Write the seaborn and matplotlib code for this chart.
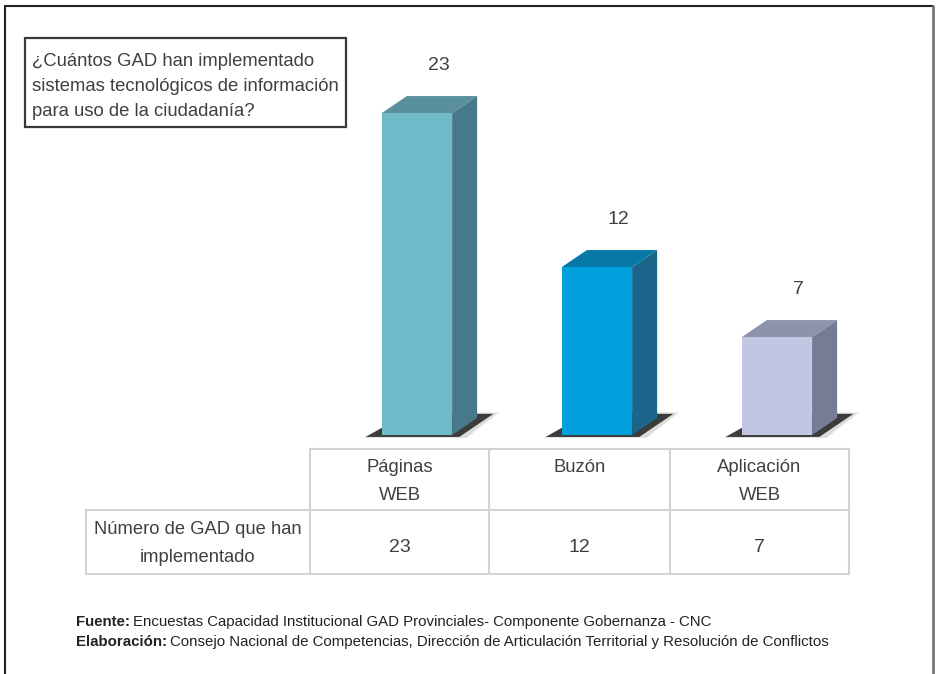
import numpy as np
import pandas as pd
import matplotlib
matplotlib.use('Agg')
import matplotlib.pyplot as plt
import seaborn as sns
from matplotlib.patches import Polygon, Rectangle

# datos del grafico
categorias = ['Páginas\nWEB', 'Buzón', 'Aplicación\nWEB']
valores = [23, 12, 7]
fila_label = 'Número de GAD que han\nimplementado'
titulo = '¿Cuántos GAD han implementado\nsistemas tecnológicos de información\npara uso de la ciudadanía?'
color_frente = ['#6fbac8', '#00a0dc', '#c1c6e3']
color_lado = ['#47798a', '#1a6589', '#757c95']
color_tope = ['#5a909d', '#0779a6', '#8d93ac']
fuente = 'Encuestas Capacidad Institucional GAD Provinciales- Componente Gobernanza - CNC'
elaboracion = 'Consejo Nacional de Competencias, Dirección de Articulación Territorial y Resolución de Conflictos'

W, H = 937, 674
sns.set_theme(style='white')
plt.rcParams['font.family'] = ['Liberation Sans Narrow', 'Liberation Sans', 'DejaVu Sans']
TXT = '#404040'

fig = plt.figure(figsize=(W / 100, H / 100), dpi=100)
fig.patch.set_facecolor('white')


def px_box(x0, y0, x1, y1):
    return [x0 / W, 1 - y1 / H, (x1 - x0) / W, (y1 - y0) / H]


# ejes de barras (0 en y=435px, 14 px por unidad)
ax = fig.add_axes(px_box(327, 43, 867, 442))
df = pd.DataFrame({'cat': categorias, 'val': valores})
sns.barplot(data=df, x='cat', y='val', hue='cat', palette=color_frente,
            width=0.39, legend=False, ax=ax, saturation=1, zorder=3)
ax.set_xlim(-0.5, 2.5)
ax.set_ylim(-0.5, 28)
ax.axis('off')

dx, dy = 0.139, 1.21
barras = sorted(ax.patches, key=lambda p: p.get_x())
for i, p in enumerate(barras):
    x0 = p.get_x()
    x1 = x0 + p.get_width()
    h = p.get_height()
    p.set_edgecolor('none')
    # sombra
    ax.add_patch(Polygon([(x0 - 0.1, -0.2), (x1 + 0.08, -0.2), (x1 + dx + 0.12, dy + 0.4),
                          (x0 + dx, dy + 0.4)], closed=True, fc='#dcdcdc', ec='none', zorder=1))
    ax.add_patch(Polygon([(x0 - 0.09, -0.14), (x1 + 0.04, -0.14), (x1 + dx + 0.09, dy + 0.3),
                          (x0 + dx, dy + 0.3)], closed=True, fc='#3c3c3c', ec='none', zorder=2))
    # lado y tope
    ax.add_patch(Polygon([(x1, 0), (x1 + dx, dy), (x1 + dx, h + dy), (x1, h)],
                         closed=True, fc=color_lado[i], ec='none', zorder=3))
    ax.add_patch(Polygon([(x0, h), (x0 + dx, h + dy), (x1 + dx, h + dy), (x1, h)],
                         closed=True, fc=color_tope[i], ec='none', zorder=3))
    ax.text((x0 + x1) / 2 + 0.12, h + dy + 2.2, str(valores[i]), ha='center', va='center',
            fontsize=14, color=TXT)

# capa general en pixeles
ov = fig.add_axes([0, 0, 1, 1], zorder=-1)
ov.set_xlim(0, W)
ov.set_ylim(H, 0)
ov.axis('off')


def lineas(x, y0, paso, texto, **kw):
    for k, ln in enumerate(texto.split('\n')):
        ov.text(x, y0 + paso * k, ln, va='center', color=TXT, **kw)


# marco
ov.plot([5, 5], [6, H], color='#222222', lw=1.5)
ov.plot([5, 933], [6, 6], color='#222222', lw=1.5)
ov.plot([933, 933], [6, H], color='#777777', lw=2)

# titulo
ov.add_patch(Rectangle((25, 38), 321, 89, fill=False, ec='#3a3a3a', lw=1.6))
lineas(32, 62, 24.5, titulo, ha='left', fontsize=13.3)

# tabla
cols = [310, 489, 670, 849]
lc = '#d6d2d1'
ov.plot([cols[0], cols[-1]], [449, 449], color=lc, lw=1.5)
ov.plot([86, cols[-1]], [510, 510], color=lc, lw=1.5)
ov.plot([86, cols[-1]], [574, 574], color=lc, lw=1.5)
ov.plot([86, 86], [510, 574], color=lc, lw=1.5)
for c in cols:
    ov.plot([c, c], [449, 574], color=lc, lw=1.5)
for i, cat in enumerate(categorias):
    xc = (cols[i] + cols[i + 1]) / 2
    lineas(xc, 468, 27, cat, ha='center', fontsize=13.3)
    ov.text(xc, 548, str(valores[i]), ha='center', va='center', fontsize=14, color=TXT)
lineas(198, 530, 28, fila_label, ha='center', fontsize=13.2)

# pie
fig.canvas.draw()
r = fig.canvas.get_renderer()
for y, lab, txt in [(622, 'Fuente:', fuente), (642, 'Elaboración:', elaboracion)]:
    t = ov.text(76, y, lab, ha='left', va='center', fontsize=10.8, fontweight='bold', color='#222222')
    bb = t.get_window_extent(renderer=r)
    ov.text(76 + bb.width + 3, y, txt, ha='left', va='center', fontsize=10.8, color='#222222')

fig.savefig('out.png', dpi=100)
